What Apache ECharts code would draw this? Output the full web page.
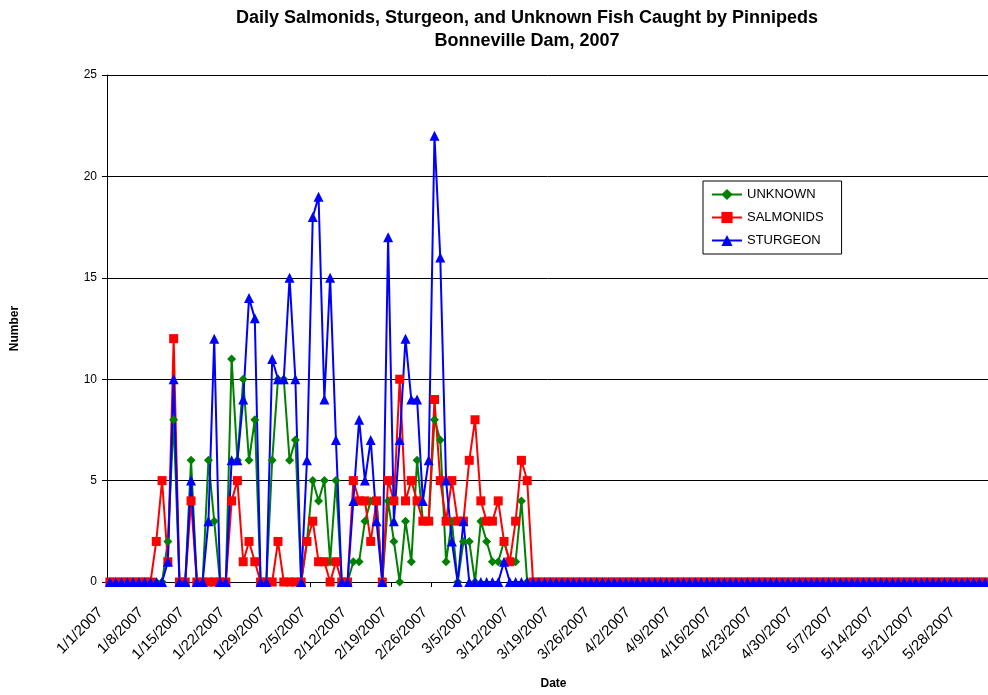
<!DOCTYPE html>
<html>
<head>
<meta charset="utf-8">
<script src="https://cdn.jsdelivr.net/npm/echarts@6/dist/echarts.min.js"></script>
<style>
html,body{margin:0;padding:0;background:#fff;}
#chart{width:988px;height:695px;}
</style>
</head>
<body>
<div id="chart"></div>
<script>
// Category dates: 1/1/2007 .. 6/1/2007 (daily)
const dayCount = 152;
const dates = [];
for (let i = 0; i < dayCount; i++) {
  const d = new Date(2007, 0, 1 + i);
  dates.push((d.getMonth() + 1) + '/' + d.getDate() + '/' + d.getFullYear());
}

const unknown = [
  0,0,0,0,0,0,0,0,0,0, 2,8,0,0,6,0,0,6,3,0,
  0,11,6,10,6,8,0,0,6,10, 10,6,7,0,2,5,4,5,1,5,
  0,0,1,1,3,4,4,0,4,2, 0,3,1,6,3,3,8,7,1,3,
  0,2,2,0,3,2,1,1,2,1, 1,4,0,0,0,0,0,0,0,0,
  0,0,0,0,0,0,0,0,0,0, 0,0,0,0,0,0,0,0,0,0,
  0,0,0,0,0,0,0,0,0,0, 0,0,0,0,0,0,0,0,0,0,
  0,0,0,0,0,0,0,0,0,0, 0,0,0,0,0,0,0,0,0,0,
  0,0,0,0,0,0,0,0,0,0, 0,0
];
const salmonids = [
  0,0,0,0,0,0,0,0,2,5, 1,12,0,0,4,0,0,0,0,0,
  0,4,5,1,2,1,0,0,0,2, 0,0,0,0,2,3,1,1,0,1,
  0,0,5,4,4,2,4,0,5,4, 10,4,5,4,3,3,9,5,3,5,
  3,3,6,8,4,3,3,4,2,1, 3,6,5,0,0,0,0,0,0,0,
  0,0,0,0,0,0,0,0,0,0, 0,0,0,0,0,0,0,0,0,0,
  0,0,0,0,0,0,0,0,0,0, 0,0,0,0,0,0,0,0,0,0,
  0,0,0,0,0,0,0,0,0,0, 0,0,0,0,0,0,0,0,0,0,
  0,0,0,0,0,0,0,0,0,0, 0,0
];
const sturgeon = [
  0,0,0,0,0,0,0,0,0,0, 1,10,0,0,5,0,0,3,12,0,
  0,6,6,9,14,13,0,0,11,10, 10,15,10,0,6,18,19,9,15,7,
  0,0,4,8,5,7,3,0,17,3, 7,12,9,9,4,6,22,16,5,2,
  0,3,0,0,0,0,0,0,1,0, 0,0,0,0,0,0,0,0,0,0,
  0,0,0,0,0,0,0,0,0,0, 0,0,0,0,0,0,0,0,0,0,
  0,0,0,0,0,0,0,0,0,0, 0,0,0,0,0,0,0,0,0,0,
  0,0,0,0,0,0,0,0,0,0, 0,0,0,0,0,0,0,0,0,0,
  0,0,0,0,0,0,0,0,0,0, 0,0
];
const yTicks = [0, 5, 10, 15, 20, 25];

const FONT = 'Liberation Sans, Arial, sans-serif';
const chart = echarts.init(document.getElementById('chart'), null, {renderer: 'canvas'});

function lineSeries(name, data, color, symbol, size) {
  return {
    name: name,
    type: 'line',
    data: data,
    symbol: symbol,
    symbolSize: size,
    showAllSymbol: true,
    lineStyle: {color: color, width: 2},
    itemStyle: {color: color},
    animation: false
  };
}

chart.setOption({
  backgroundColor: '#ffffff',
  animation: false,
  title: {
    text: 'Daily Salmonids, Sturgeon, and Unknown Fish Caught by Pinnipeds\nBonneville Dam, 2007',
    left: 522,
    textAlign: 'center',
    top: 2,
    textStyle: {fontFamily: FONT, fontWeight: 'bold', fontSize: 18, lineHeight: 23, color: '#000'}
  },
  legend: {
    orient: 'vertical',
    left: 703,
    top: 181,
    padding: [7, 18, 7, 8],
    itemGap: 10,
    itemWidth: 30,
    itemHeight: 14,
    borderColor: '#000',
    borderWidth: 1,
    backgroundColor: '#fff',
    textStyle: {fontFamily: FONT, fontSize: 13, color: '#000'},
    data: ['UNKNOWN', 'SALMONIDS', 'STURGEON']
  },
  grid: {left: 107, right: 0, top: 75, bottom: 107, containLabel: false},
  xAxis: {
    type: 'category',
    data: dates,
    boundaryGap: true,
    name: 'Date',
    nameLocation: 'middle',
    nameGap: 96,
    nameTextStyle: {fontFamily: FONT, fontWeight: 'bold', fontSize: 12, color: '#000', padding: [0, 0, 0, 12]},
    axisLine: {lineStyle: {color: '#000', width: 1}},
    axisTick: {show: true, interval: 6, length: 5, inside: false, lineStyle: {color: '#000'}},
    axisLabel: {interval: 6, rotate: 45, fontFamily: FONT, fontSize: 15, color: '#000', margin: 19,
      padding: [0, 13, 0, 0]},
    splitLine: {show: false}
  },
  yAxis: {
    type: 'value',
    min: 0,
    max: 25,
    interval: 5,
    name: 'Number',
    nameLocation: 'middle',
    nameGap: 86,
    nameRotate: 90,
    nameTextStyle: {fontFamily: FONT, fontWeight: 'bold', fontSize: 12, color: '#000'},
    axisLine: {show: true, lineStyle: {color: '#000', width: 1}},
    axisTick: {show: true, length: 5, lineStyle: {color: '#000'}},
    axisLabel: {fontFamily: FONT, fontSize: 12, color: '#000', margin: 10,
      formatter: function (v) { return yTicks.indexOf(v) >= 0 ? String(v) : ''; }},
    splitLine: {show: true, lineStyle: {color: '#000', width: 1}}
  },
  series: [
    lineSeries('UNKNOWN', unknown, '#008000', 'diamond', 9),
    lineSeries('SALMONIDS', salmonids, '#FF0000', 'rect', 9),
    lineSeries('STURGEON', sturgeon, '#0000FF', 'triangle', 10)
  ]
});
</script>
</body>
</html>
